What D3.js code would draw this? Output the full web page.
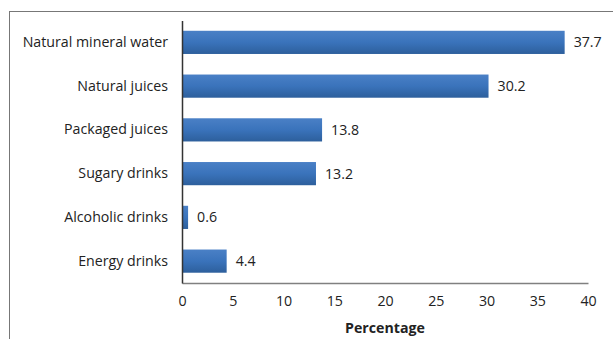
<!DOCTYPE html>
<html>
<head>
<meta charset="utf-8">
<script src="https://cdn.jsdelivr.net/npm/d3@7"></script>
<style>
  body { margin: 0; background: #fff; }
  svg text { font-family: "Open Sans", "Noto Sans", sans-serif; fill: #222; }
</style>
</head>
<body>
<div id="main"></div>
<script>
const categories = ['Natural mineral water', 'Natural juices', 'Packaged juices', 'Sugary drinks', 'Alcoholic drinks', 'Energy drinks']
const values = [37.7, 30.2, 13.8, 13.2, 0.6, 4.4]
const ticks = [0, 5, 10, 15, 20, 25, 30, 35, 40]
const axisTitle = 'Percentage'

const w = 613, h = 339
const plotLeft = 182, plotRight = 588, plotTop = 20.5, plotBottom = 283
const fontSize = 14.2

const svg = d3.select('#main')
            .append('svg')
            .attr('width', w)
            .attr('height', h)

// chart frame, right and bottom sides fall outside the picture
svg.append('rect')
    .attr('x', 9.5)
    .attr('y', 11.5)
    .attr('width', w + 20)
    .attr('height', h + 20)
    .attr('fill', 'none')
    .attr('stroke', '#777')
    .attr('stroke-width', 1)

const defs = svg.append('defs')
const grad = defs.append('linearGradient')
                .attr('id', 'barGrad')
                .attr('x1', 0).attr('y1', 0)
                .attr('x2', 0).attr('y2', 1)
grad.append('stop').attr('offset', '0%').attr('stop-color', '#4a80c6')
grad.append('stop').attr('offset', '50%').attr('stop-color', '#3a73bb')
grad.append('stop').attr('offset', '100%').attr('stop-color', '#2d5f9c')

const xScale = d3.scaleLinear()
                .domain([0, 40])
                .range([plotLeft, plotRight])

const yScale = d3.scaleBand()
                .domain(categories)
                .range([plotTop, plotBottom])
                .paddingInner(0.47)
                .paddingOuter(0.235)

const xAxis = d3.axisBottom(xScale)
                .tickValues(ticks)
                .tickSize(0)
                .tickPadding(13)

const xLine = svg.append('g')
                .attr('transform', 'translate(0,' + plotBottom + ')')
                .call(xAxis)
xLine.select('.domain').attr('stroke', '#808080').attr('stroke-width', 1.5)
xLine.selectAll('text')
    .attr('font-size', fontSize)
    .attr('font-family', null)

svg.append('text')
    .text(axisTitle)
    .attr('x', 385)
    .attr('y', 333)
    .attr('text-anchor', 'middle')
    .attr('font-size', fontSize)
    .attr('font-weight', 'bold')

const data = categories.map((c, i) => ({ name: c, value: values[i] }))

svg.append('g')
    .selectAll('rect')
    .data(data)
    .enter()
    .append('rect')
    .attr('x', xScale(0))
    .attr('y', d => yScale(d.name))
    .attr('width', d => xScale(d.value) - xScale(0))
    .attr('height', yScale.bandwidth())
    .attr('fill', 'url(#barGrad)')

svg.append('g')
    .selectAll('text')
    .data(data)
    .enter()
    .append('text')
    .text(d => d.value)
    .attr('x', d => xScale(d.value) + 9)
    .attr('y', d => yScale(d.name) + yScale.bandwidth() / 2)
    .attr('dy', '0.35em')
    .attr('font-size', fontSize)

const yAxis = d3.axisLeft(yScale)
                .tickSize(0)
                .tickPadding(14)

const yLine = svg.append('g')
                .attr('transform', 'translate(' + plotLeft + ',0)')
                .call(yAxis)
yLine.select('.domain').attr('stroke', '#333').attr('stroke-width', 1.5)
yLine.selectAll('text')
    .attr('font-size', fontSize)
    .attr('font-family', null)
</script>
</body>
</html>
